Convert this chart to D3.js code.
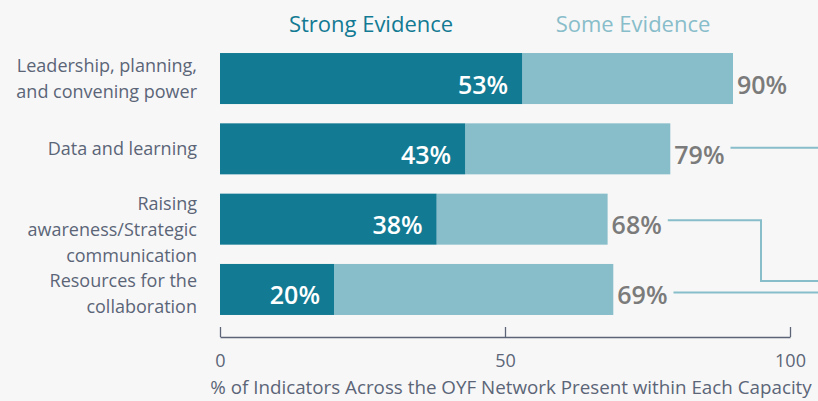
<!DOCTYPE html>
<html>
<head>
<meta charset="utf-8">
<script src="https://cdn.jsdelivr.net/npm/d3@7"></script>
<style>
  html, body { margin: 0; padding: 0; background: #f7f7f7; }
  svg { display: block; }
  text { font-family: "Open Sans", sans-serif; }
</style>
</head>
<body>
<svg id="chart" width="818" height="401"></svg>
<script>
// ---- data ----
const categories = [
  "Leadership, planning,\nand convening power",
  "Data and learning",
  "Raising\nawareness/Strategic\ncommunication",
  "Resources for the\ncollaboration"
];
const strongEvidence = [53, 43, 38, 20];
const someEvidence = [90, 79, 68, 69];   // total share with at least some evidence
const seriesNames = ["Strong Evidence", "Some Evidence"];
const tickValues = [0, 50, 100];
const axisTitle = "% of Indicators Across the OYF Network Present within Each Capacity";

// ---- layout / style ----
const W = 818, H = 401;
const darkColor = "#127a93", lightColor = "#88bdca";
const labelColor = "#5b6577", valueGrey = "#7b7b7b";
const labelShift = [0, 0, 10, 4];
const svg = d3.select("#chart");
svg.append("rect").attr("width", W).attr("height", H).attr("fill", "#f7f7f7");

const x = d3.scaleLinear().domain([0, 100]).range([220, 790]);
const y = d3.scaleBand().domain(categories).range([43.4, 324.6]).paddingInner(0.2745).paddingOuter(0.137);

const rows = categories.map((c, i) => ({ c, strong: strongEvidence[i], some: someEvidence[i], i }));

// legend
const legend = svg.append("g");
legend.append("text").attr("x", 371).attr("y", 32).attr("text-anchor", "middle")
  .attr("font-size", 22).attr("fill", darkColor).text(seriesNames[0]);
legend.append("text").attr("x", 633).attr("y", 32).attr("text-anchor", "middle")
  .attr("font-size", 22).attr("fill", lightColor).text(seriesNames[1]);

// bars
const g = svg.append("g");
g.selectAll("rect.some").data(rows).join("rect").attr("class", "some")
  .attr("x", d => x(d.strong)).attr("y", d => y(d.c))
  .attr("width", d => x(d.some) - x(d.strong)).attr("height", y.bandwidth())
  .attr("fill", lightColor);
g.selectAll("rect.strong").data(rows).join("rect").attr("class", "strong")
  .attr("x", x(0)).attr("y", d => y(d.c))
  .attr("width", d => x(d.strong) - x(0)).attr("height", y.bandwidth())
  .attr("fill", darkColor);

// inner value labels
g.selectAll("text.sv").data(rows).join("text").attr("class", "sv")
  .attr("x", d => x(d.strong) - 14).attr("y", d => y(d.c) + y.bandwidth() / 2 + 15)
  .attr("text-anchor", "end").attr("font-size", 25).attr("font-weight", 600)
  .attr("fill", "#ffffff").text(d => d.strong + "%");

// outer value labels
const outer = g.selectAll("text.ov").data(rows).join("text").attr("class", "ov")
  .attr("x", d => x(d.some) + 4).attr("y", d => y(d.c) + y.bandwidth() / 2 + 15)
  .attr("text-anchor", "start").attr("font-size", 25).attr("font-weight", 600)
  .attr("fill", valueGrey).text(d => d.some + "%");

// category labels
const lh = 26;
rows.forEach(d => {
  const lines = d.c.split("\n");
  const cy = y(d.c) + y.bandwidth() / 2 + labelShift[d.i];
  const t = svg.append("text").attr("text-anchor", "end").attr("font-size", 18)
    .attr("fill", labelColor);
  lines.forEach((ln, k) => {
    t.append("tspan").attr("x", 197)
      .attr("y", cy + (k - (lines.length - 1) / 2) * lh + 6.5).text(ln);
  });
});

// axis
const axis = d3.axisBottom(x).tickValues(tickValues).tickSizeInner(-10).tickSizeOuter(0).tickPadding(17);
const ax = svg.append("g").attr("transform", "translate(0,337)").call(axis);
ax.select(".domain").attr("stroke", labelColor).attr("stroke-width", 1.3);
ax.selectAll(".tick line").attr("stroke", labelColor).attr("stroke-width", 1.3);
ax.selectAll(".tick text").attr("font-size", 18).attr("fill", labelColor)
  .attr("font-family", "'Open Sans', sans-serif");
svg.append("text").attr("x", 511).attr("y", 393.5).attr("text-anchor", "middle")
  .attr("font-size", 18.8).attr("fill", labelColor).text(axisTitle);

// connector lines to the right
const outerNodes = outer.nodes();
function labelEnd(i) {
  const d = rows[i];
  return x(d.some) + 4 + outerNodes[i].getComputedTextLength() + 6;
}
const line = d3.line();
const cy = i => y(rows[i].c) + y.bandwidth() / 2;
const connectors = [
  [[labelEnd(1), cy(1) - 1], [W, cy(1) - 1]],
  [[labelEnd(2), cy(2) + 1], [761, cy(2) + 1], [761, 281], [W, 281]],
  [[labelEnd(3), cy(3) + 3], [W, cy(3) + 3]]
];
svg.selectAll("path.conn").data(connectors).join("path").attr("class", "conn")
  .attr("d", line).attr("fill", "none").attr("stroke", lightColor).attr("stroke-width", 2);
</script>
</body>
</html>
